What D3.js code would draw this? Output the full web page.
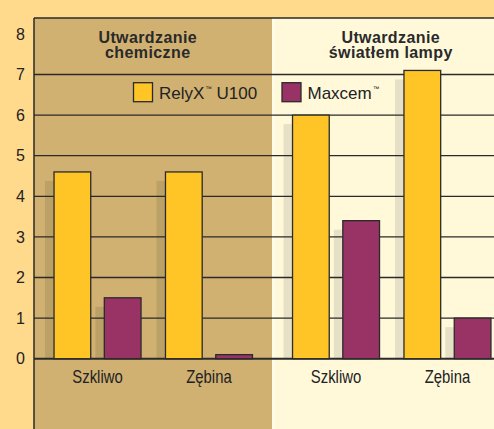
<!DOCTYPE html>
<html><head><meta charset="utf-8">
<script src="https://cdn.jsdelivr.net/npm/d3@7"></script>
<style>body{margin:0;background:#FFDA8C;} svg{display:block}</style>
</head><body><svg id="c" width="494" height="429"></svg>
<script>
// ---- data ----
const panelTitles = [["Utwardzanie", "chemiczne"], ["Utwardzanie", "światłem lampy"]];
const categories = ["Szkliwo", "Zębina"];
const seriesNames = ["RelyX", "Maxcem"];
const relyxValues = [4.6, 4.6, 6.0, 7.1];   // chem Szkliwo, chem Zębina, light Szkliwo, light Zębina
const maxcemValues = [1.5, 0.1, 3.4, 1.0];
const yTickValues = [0, 1, 2, 3, 4, 5, 6, 7, 8];
const gridValues = [0, 1, 2, 3, 4, 5, 6, 7];

// ---- layout / style ----
const W = 494, H = 429, leftX = 34, topY = 18, panelW = 238.5;
const panelFill = ["#D0B172", "#FFF9DA"];
const shadowFill = ["#BCA166", "#E6E1C6"];
const seriesFill = ["#FFC425", "#993366"];
const ink = "#2a2a2a";
const font = "'Liberation Sans', Arial, Helvetica, sans-serif";

const svg = d3.select("#c");
const y = d3.scaleLinear().domain([0, 8]).range([358.7, 33.9]);
const xPanel = d3.scaleBand().domain([0, 1]).range([leftX, leftX + 2 * panelW]).padding(0);
const xGroup = d3.scalePoint().domain(categories).range([0, panelW]).padding(0.57);
const xSeries = d3.scaleBand().domain(seriesNames).range([-43.5, 43.5]).paddingInner(0.27);
const bw = xSeries.bandwidth();

const rows = [];
[0, 1].forEach(p => categories.forEach((c, ci) => {
  const idx = p * 2 + ci;
  rows.push({p, c, s: "RelyX", v: relyxValues[idx]});
  rows.push({p, c, s: "Maxcem", v: maxcemValues[idx]});
}));
const barX = d => xPanel(d.p) + xGroup(d.c) + xSeries(d.s);

// panels
svg.selectAll("rect.panel").data([0, 1]).join("rect")
  .attr("x", p => xPanel(p)).attr("y", topY)
  .attr("width", xPanel.bandwidth()).attr("height", H - topY)
  .attr("fill", p => panelFill[p]);
svg.append("rect").attr("x", xPanel(1) - 0.5).attr("y", topY).attr("width", 2.5).attr("height", H - topY)
  .attr("fill", "#FFFCEA");

// shadows
const sh = 9;
svg.selectAll("rect.shadow").data(rows.filter(d => y(0) - y(d.v) > sh)).join("rect")
  .attr("x", d => barX(d) - sh).attr("y", d => y(d.v) + sh)
  .attr("width", bw).attr("height", d => y(0) - y(d.v) - sh)
  .attr("fill", d => shadowFill[d.p]);

// gridlines
svg.selectAll("line.grid").data(gridValues).join("line")
  .attr("x1", leftX).attr("x2", W)
  .attr("y1", d => y(d)).attr("y2", d => y(d))
  .attr("stroke", ink).attr("stroke-width", d => d === 0 ? 2 : 1.3);
// frame
svg.append("line").attr("x1", leftX).attr("x2", W).attr("y1", topY).attr("y2", topY)
  .attr("stroke", ink).attr("stroke-width", 1.5);
svg.append("line").attr("x1", leftX).attr("x2", leftX).attr("y1", topY).attr("y2", H)
  .attr("stroke", ink).attr("stroke-width", 1.5);

// bars
svg.selectAll("rect.bar").data(rows).join("rect")
  .attr("x", barX).attr("y", d => y(d.v))
  .attr("width", bw).attr("height", d => y(0) - y(d.v))
  .attr("fill", d => seriesFill[seriesNames.indexOf(d.s)])
  .attr("stroke", ink).attr("stroke-width", 1.3);

// y tick labels
svg.selectAll("text.ytick").data(yTickValues).join("text")
  .attr("x", 25).attr("y", d => y(d)).attr("dy", "0.36em")
  .attr("text-anchor", "end").attr("font-family", font).attr("font-size", 16)
  .attr("fill", "#222").text(d => d);

// x labels (condensed look)
const xl = [];
[0, 1].forEach(p => categories.forEach(c => xl.push({p, c})));
svg.selectAll("text.xlab").data(xl).join("text")
  .attr("transform", d => `translate(${xPanel(d.p) + xGroup(d.c)},382.5) scale(0.85,1)`)
  .attr("text-anchor", "middle").attr("font-family", font).attr("font-size", 17.5)
  .attr("fill", "#222").text(d => d.c);

// panel titles
const titleDx = [-5.5, -1];
panelTitles.forEach((lines, p) => {
  const cx = xPanel(p) + (xGroup(categories[0]) + xGroup(categories[1])) / 2 + titleDx[p];
  const t = svg.append("text").attr("text-anchor", "middle").attr("font-family", font)
    .attr("font-size", 16).attr("font-weight", "bold").attr("letter-spacing", 0.4).attr("fill", "#2a2a2a");
  lines.forEach((l, i) => t.append("tspan").attr("x", cx).attr("y", 42.7 + i * 15.5).text(l));
});

// legend
const legend = [
  {x: xPanel(0) + 99.5, name: "RelyX", rest: " U100", fill: seriesFill[0]},
  {x: xPanel(1) + 9.5, name: "Maxcem", rest: "", fill: seriesFill[1]}
];
legend.forEach(l => {
  svg.append("rect").attr("x", l.x).attr("y", 82.7).attr("width", 19).attr("height", 19)
    .attr("fill", l.fill).attr("stroke", ink).attr("stroke-width", 1.3);
  const t = svg.append("text").attr("x", l.x + 25.5).attr("y", 98.5)
    .attr("font-family", font).attr("font-size", 17).attr("fill", "#222");
  t.append("tspan").text(l.name);
  t.append("tspan").attr("font-size", 6.5).attr("dy", -8).attr("dx", 1).text("™");
  if (l.rest) t.append("tspan").attr("dy", 8).text(l.rest);
});
</script></body></html>
